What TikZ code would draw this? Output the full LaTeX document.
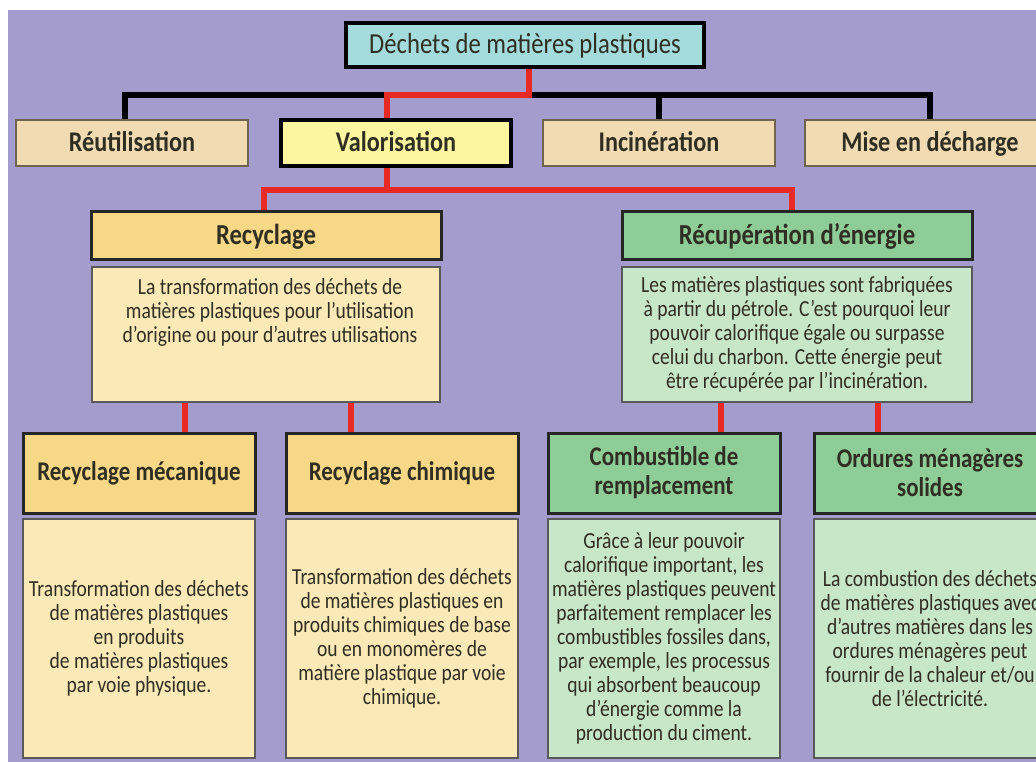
\documentclass[tikz,border=0pt]{standalone}
\usepackage{fontspec}
\setmainfont{Carlito}[FakeStretch=0.85]
\definecolor{bgpurple}{RGB}{164,156,204}
\definecolor{cyanbox}{RGB}{164,220,222}
\definecolor{tanbox}{RGB}{240,219,178}
\definecolor{yelbox}{RGB}{252,246,160}
\definecolor{goldhead}{RGB}{246,216,134}
\definecolor{golddesc}{RGB}{251,234,184}
\definecolor{greenhead}{RGB}{142,204,152}
\definecolor{greendesc}{RGB}{200,230,200}
\definecolor{redline}{RGB}{232,42,36}
\definecolor{txt}{RGB}{48,46,34}
\definecolor{thinborder}{RGB}{110,100,80}
\tikzset{
  base/.style={rectangle, inner sep=0pt, align=center, text=txt},
  titlebox/.style={base, fill=cyanbox, draw=black, line width=4pt, font=\fontsize{29}{31}\selectfont, text height=21pt, text depth=3pt},
  tanlabel/.style={base, fill=tanbox, draw=thinborder, line width=1.4pt, font=\bfseries\fontsize{28.5}{30}\selectfont, minimum width=232pt, minimum height=46pt, text height=21pt, text depth=3pt},
  vallabel/.style={tanlabel, fill=yelbox, draw=black, line width=3.2pt},
  headbox/.style={base, draw=black!85, line width=3pt, font=\bfseries\fontsize{27}{29}\selectfont},
  bighead/.style={headbox, font=\bfseries\fontsize{29}{31}\selectfont, text height=21pt, text depth=3pt},
  descbox/.style={base, draw=black!65, line width=1.5pt, font=\fontsize{23}{24}\selectfont},
  redl/.style={draw=redline, line width=6.5pt},
  blkl/.style={draw=black, line width=6pt}
}
\begin{document}
\begin{tikzpicture}[x=1pt,y=-1pt]
\clip (0,0) rectangle (1036,762);
\useasboundingbox (0,0) rectangle (1036,762);
\fill[white] (0,0) rectangle (1036,762);
\fill[bgpurple] (8,10) rectangle (1040,770);

% top
\node[titlebox, minimum width=358pt, minimum height=44pt] (top) at (525,45) {Déchets de matières plastiques};

% row 2
\node[tanlabel] (reut) at (132,143) {Réutilisation};
\node[vallabel, minimum width=230pt] (valo) at (396,143) {Valorisation};
\node[tanlabel] (inc) at (659,143) {Incinération};
\node[tanlabel, minimum width=250pt] (mise) at (930,143) {Mise en décharge};

% row 3
\node[bighead, fill=goldhead, minimum width=350pt, minimum height=47pt] (rec) at (266,235.5) {Recyclage};
\node[descbox, fill=golddesc, minimum width=348pt, minimum height=135pt] (recdesc) at (266,334.5) {};
\node[base, font=\fontsize{23}{24}\selectfont] (recdesctext) at (270,312) {La transformation des déchets de\\matières plastiques pour l’utilisation\\d’origine ou pour d’autres utilisations};

\node[bighead, fill=greenhead, minimum width=350pt, minimum height=47pt] (recup) at (797,235.5) {Récupération d’énergie};
\node[descbox, fill=greendesc, minimum width=350pt, minimum height=135pt] (recupdesc) at (797,334.5) {Les matières plastiques sont fabriquées\\à partir du pétrole. C’est pourquoi leur\\pouvoir calorifique égale ou surpasse\\celui du charbon. Cette énergie peut\\être récupérée par l’incinération.};

% row 4 headers
\node[headbox, fill=goldhead, minimum width=232pt, minimum height=80pt] (mech) at (139,473) {Recyclage mécanique};
\node[headbox, fill=goldhead, minimum width=232pt, minimum height=80pt] (chim) at (402,473) {Recyclage chimique};
\node[headbox, fill=greenhead, minimum width=232pt, minimum height=80pt] (comb) at (664,473) {Combustible de\\remplacement};
\node[headbox, fill=greenhead, minimum width=232pt, minimum height=80pt] (ord) at (930,473) {Ordures ménagères\\solides};

% row 4 descriptions
\node[descbox, fill=golddesc, minimum width=232pt, minimum height=239pt] (mechdesc) at (139,638.5) {Transformation des déchets\\de matières plastiques\\en produits\\de matières plastiques\\par voie physique.};
\node[descbox, fill=golddesc, minimum width=232pt, minimum height=239pt] (chimdesc) at (402,638.5) {Transformation des déchets\\de matières plastiques en\\produits chimiques de base\\ou en monomères de\\matière plastique par voie\\chimique.};
\node[descbox, fill=greendesc, minimum width=232pt, minimum height=239pt] (combdesc) at (664,638.5) {Grâce à leur pouvoir\\calorifique important, les\\matières plastiques peuvent\\parfaitement remplacer les\\combustibles fossiles dans,\\par exemple, les processus\\qui absorbent beaucoup\\d’énergie comme la\\production du ciment.};
\node[descbox, fill=greendesc, minimum width=232pt, minimum height=239pt] (orddesc) at (930,638.5) {La combustion des déchets\\de matières plastiques avec\\d’autres matières dans les\\ordures ménagères peut\\fournir de la chaleur et/ou\\de l’électricité.};

% connectors
\coordinate (bar) at (0,95);
\coordinate (vt) at ([xshift=-9pt]valo.north);
\coordinate (vs) at ([xshift=-9pt]valo.south);
\coordinate (vb) at (0,190);
\coordinate (rt) at ([xshift=-5pt]recup.north);
\coordinate (lt) at ([xshift=-2pt]rec.north);
\draw[blkl] ([xshift=-7pt]reut.north) |- (bar -| mise.north) -- (mise.north);
\draw[blkl] (inc.north) -- (inc.north |- bar);
\draw[redl] ([xshift=4pt]top.south) |- (bar -| vt) -- (vt);
\draw[redl] (vs) -- (vs |- vb);
\draw[redl] (lt) |- (vb -| rt) -- (rt);
\draw[redl] ([xshift=-81pt]recdesc.south) -- ([xshift=-81pt]recdesc.south |- mech.north);
\draw[redl] ([xshift=85pt]recdesc.south) -- ([xshift=85pt]recdesc.south |- chim.north);
\draw[redl] ([xshift=-76pt]recupdesc.south) -- ([xshift=-76pt]recupdesc.south |- comb.north);
\draw[redl] ([xshift=81pt]recupdesc.south) -- ([xshift=81pt]recupdesc.south |- ord.north);
\end{tikzpicture}
\end{document}
